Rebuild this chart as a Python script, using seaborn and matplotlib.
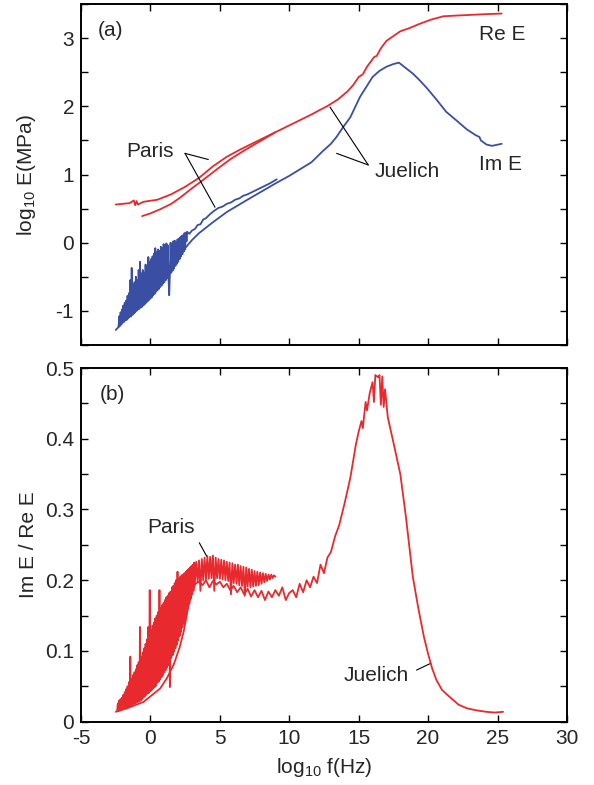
# -*- coding: utf-8 -*-
"""
Re E, Im E and Im E / Re E against log frequency, Paris and Juelich data
"""

import matplotlib.pyplot as plt
from matplotlib.ticker import MultipleLocator
import seaborn as sns

# set theme
sns.set_theme(style="ticks")
plt.rcParams['font.family'] = ['Liberation Sans', 'DejaVu Sans']
plt.rcParams['mathtext.fontset'] = 'custom'
plt.rcParams['mathtext.rm'] = 'Liberation Sans'
plt.rcParams['mathtext.it'] = 'Liberation Sans'
plt.rcParams['axes.unicode_minus'] = False

RED = '#e8292d'
BLUE = '#3a4fa3'

# --- panel (a): log10 E (MPa) ---
juelich_re_x = [-2.5, -2.0, -1.5, -1.2, -1.1, -1.0, -0.9, -0.5, 0.5, 1.5, 2.5, 3.5,
                4.5, 5.5, 6.5, 7.5, 8.5, 9.5, 10.5, 11.5, 12.8, 13.5, 14.2, 14.6,
                15.0, 15.3, 15.6, 16.1, 16.3, 16.6, 17.0, 17.5, 18.0, 18.7, 19.4,
                20.2, 21.1, 22.0, 23.0, 24.0, 25.3]
juelich_re_y = [0.56, 0.57, 0.58, 0.62, 0.55, 0.61, 0.56, 0.60, 0.63, 0.71, 0.82, 0.95,
                1.12, 1.26, 1.37, 1.47, 1.57, 1.67, 1.77, 1.87, 2.01, 2.10, 2.22, 2.31,
                2.43, 2.47, 2.58, 2.72, 2.74, 2.85, 2.96, 3.03, 3.10, 3.15, 3.21,
                3.27, 3.32, 3.33, 3.34, 3.35, 3.36]

paris_re_x = [-0.6, 0.0, 0.7, 1.5, 2.2, 3.0, 3.6, 4.3, 5.0, 5.8, 6.9, 8.0, 9.0]
paris_re_y = [0.39, 0.43, 0.49, 0.57, 0.67, 0.80, 0.89, 1.00, 1.11, 1.23, 1.37, 1.50, 1.62]

juelich_im_x = [-2.5, -2.0, -1.5, -1.0, -0.5, 0.0, 0.5, 1.0, 1.5, 2.0, 2.5, 3.0, 3.5,
                4.5, 5.5, 6.9, 8.0, 9.1, 10.0, 10.8, 11.6, 12.4, 13.0, 13.4, 13.9,
                14.4, 15.1, 15.6, 16.0, 16.5, 17.0, 17.5, 17.9, 18.4, 18.9, 19.4,
                19.9, 20.6, 21.3, 22.0, 22.8, 23.4, 23.7, 23.8, 24.2, 24.6, 25.3]
juelich_im_y = [-1.28, -1.17, -1.07, -0.98, -0.88, -0.78, -0.66, -0.53, -0.38, -0.22,
                -0.08, 0.04, 0.14, 0.30, 0.45, 0.62, 0.75, 0.88, 0.98, 1.08, 1.18,
                1.34, 1.45, 1.55, 1.70, 1.84, 2.14, 2.30, 2.43, 2.52, 2.58, 2.62,
                2.64, 2.56, 2.48, 2.38, 2.27, 2.10, 1.92, 1.80, 1.66, 1.58, 1.55,
                1.50, 1.44, 1.42, 1.45]

paris_im_x = [-2.30, -2.25, -2.20, -2.15, -2.10, -2.05, -2.00, -1.95, -1.90, -1.85,
              -1.80, -1.75, -1.70, -1.65, -1.60, -1.55, -1.50, -1.45, -1.40, -1.35,
              -1.30, -1.25, -1.20, -1.15, -1.10, -1.05, -1.00, -0.95, -0.90, -0.85,
              -0.80, -0.75, -0.70, -0.65, -0.60, -0.55, -0.50, -0.45, -0.40, -0.35,
              -0.30, -0.25, -0.20, -0.15, -0.10, -0.05, 0.00, 0.05, 0.10, 0.15,
              0.20, 0.25, 0.30, 0.35, 0.40, 0.45, 0.50, 0.55, 0.60, 0.65,
              0.70, 0.75, 0.80, 0.85, 0.90, 0.95, 1.00, 1.05, 1.10, 1.15,
              1.20, 1.25, 1.30, 1.35, 1.40, 1.45, 1.50, 1.55, 1.60, 1.65,
              1.70, 1.75, 1.80, 1.85, 1.90, 1.95, 2.00, 2.05, 2.10, 2.15,
              2.20, 2.25, 2.30, 2.35, 2.40, 2.45, 2.50, 2.55, 2.60, 2.65,
              2.8, 3.0, 3.2, 3.4, 3.6, 3.8, 4.0, 4.3, 4.6, 4.9, 5.2, 5.5, 5.8,
              6.1, 6.4, 6.7, 7.0, 7.4, 7.8, 8.2, 8.6, 9.1]
paris_im_y = [-1.24, -1.08, -1.22, -1.02, -1.20, -0.98, -1.17, -0.92, -1.16, -0.88,
              -1.14, -0.85, -1.13, -0.78, -1.11, -0.74, -1.09, -0.55, -1.08, -0.37,
              -1.06, -0.62, -1.04, -0.58, -1.02, -0.50, -1.00, -0.55, -0.98, -0.40,
              -0.97, -0.28, -0.95, -0.45, -0.94, -0.40, -0.92, -0.44, -0.90, -0.32,
              -0.88, -0.36, -0.86, -0.21, -0.84, -0.28, -0.82, -0.24, -0.80, -0.20,
              -0.77, -0.16, -0.75, -0.08, -0.72, -0.14, -0.70, -0.10, -0.68, -0.12,
              -0.65, -0.06, -0.63, -0.08, -0.60, -0.02, -0.58, -0.05, -0.55, -0.01,
              -0.52, -0.04, -0.50, -0.77, -0.47, 0.00, -0.44, -0.02, -0.41, 0.02,
              -0.38, 0.03, -0.34, 0.01, -0.31, 0.05, -0.28, 0.06, -0.24, 0.08,
              -0.20, 0.10, -0.17, 0.11, -0.13, 0.14, -0.10, 0.15, 0.02, 0.16,
              0.13, 0.18, 0.20, 0.26, 0.27, 0.34, 0.36, 0.42, 0.47, 0.51, 0.53, 0.57, 0.59,
              0.63, 0.65, 0.69, 0.71, 0.75, 0.79, 0.83, 0.87, 0.93]

# --- panel (b): Im E / Re E ---
juelich_tan_x = [-2.5, -1.7, -0.5, 0.7, 1.2, 1.7, 2.1, 2.4, 2.7,
                 3.0, 3.25, 3.5, 3.75, 4.0, 4.25, 4.5, 4.75, 5.0, 5.25, 5.5, 5.75,
                 6.0, 6.25, 6.5, 6.75, 7.0, 7.25, 7.5, 7.75, 8.0, 8.25, 8.5, 8.75,
                 9.0, 9.25, 9.5, 9.75, 10.0, 10.25, 10.5, 10.75, 11.0, 11.25, 11.5,
                 11.75, 12.0, 12.25, 12.5, 12.75, 13.0, 13.3, 13.6, 14.0, 14.4,
                 14.8, 15.0, 15.2, 15.3, 15.5, 15.6, 15.8, 16.0, 16.1, 16.2, 16.4,
                 16.5, 16.6, 16.7, 16.8, 16.9, 17.1, 17.5, 18.0, 18.4, 18.9, 19.3,
                 19.7, 20.0, 20.3, 20.6, 21.0, 21.5, 22.2, 22.8, 23.5, 24.2, 24.8,
                 25.4]
juelich_tan_y = [0.014, 0.019, 0.028, 0.047, 0.062, 0.082, 0.105, 0.128, 0.160,
                 0.185, 0.195, 0.198, 0.193, 0.200, 0.190, 0.199, 0.194, 0.198, 0.190,
                 0.195, 0.186, 0.192, 0.183, 0.190, 0.180, 0.188, 0.177, 0.186, 0.176,
                 0.185, 0.172, 0.184, 0.176, 0.186, 0.178, 0.190, 0.172, 0.182, 0.186,
                 0.176, 0.195, 0.183, 0.200, 0.190, 0.205, 0.196, 0.222, 0.210, 0.232,
                 0.240, 0.262, 0.278, 0.310, 0.345, 0.392, 0.410, 0.425, 0.415, 0.452,
                 0.440, 0.465, 0.480, 0.452, 0.490, 0.487, 0.490, 0.448, 0.488, 0.445,
                 0.470, 0.430, 0.395, 0.350, 0.290, 0.205, 0.160, 0.120, 0.096, 0.075,
                 0.059, 0.045, 0.036, 0.024, 0.019, 0.016, 0.014, 0.013, 0.014]

paris_tan_x = [-2.40, -2.35, -2.30, -2.25, -2.20, -2.15, -2.10, -2.05, -2.00, -1.95,
               -1.90, -1.85, -1.80, -1.75, -1.70, -1.65, -1.60, -1.55, -1.50, -1.45,
               -1.40, -1.35, -1.30, -1.25, -1.20, -1.15, -1.10, -1.05, -1.00, -0.95,
               -0.90, -0.85, -0.80, -0.75, -0.70, -0.65, -0.60, -0.55, -0.50, -0.45,
               -0.40, -0.35, -0.30, -0.25, -0.20, -0.15, -0.10, -0.05, 0.00, 0.05,
               0.10, 0.15, 0.20, 0.25, 0.30, 0.35, 0.40, 0.45, 0.50, 0.55,
               0.60, 0.65, 0.70, 0.75, 0.80, 0.85, 0.90, 0.95, 1.00, 1.05,
               1.10, 1.15, 1.20, 1.25, 1.30, 1.35, 1.40, 1.45, 1.50, 1.55,
               1.60, 1.65, 1.70, 1.75, 1.80, 1.85, 1.90, 1.95, 2.00, 2.05,
               2.10, 2.15, 2.20, 2.25, 2.30, 2.35, 2.40, 2.45, 2.50, 2.55,
               2.60, 2.65, 2.70, 2.75, 2.80, 2.85, 2.90, 2.95, 3.00, 3.05,
               3.10, 3.15,
               3.2, 3.3, 3.4, 3.5, 3.6, 3.7, 3.8, 3.9, 4.0, 4.1,
               4.2, 4.3, 4.4, 4.5, 4.6, 4.7, 4.8, 4.9, 5.0, 5.1,
               5.2, 5.3, 5.4, 5.5, 5.6, 5.7, 5.8, 5.9, 6.0, 6.1,
               6.2, 6.3, 6.4, 6.5, 6.6, 6.7, 6.8, 6.9, 7.0, 7.1,
               7.2, 7.3, 7.4, 7.5, 7.6, 7.7, 7.8, 7.9, 8.0, 8.1,
               8.2, 8.3, 8.4, 8.5, 8.6, 8.7, 8.8, 8.9, 9.0]
paris_tan_y = [0.015, 0.026, 0.015, 0.030, 0.016, 0.032, 0.017, 0.034, 0.018, 0.038,
               0.019, 0.042, 0.019, 0.046, 0.020, 0.050, 0.021, 0.056, 0.022, 0.092,
               0.023, 0.060, 0.024, 0.066, 0.025, 0.070, 0.026, 0.074, 0.027, 0.080,
               0.028, 0.084, 0.029, 0.134, 0.030, 0.092, 0.032, 0.098, 0.034, 0.104,
               0.036, 0.110, 0.038, 0.116, 0.040, 0.134, 0.041, 0.186, 0.043, 0.130,
               0.045, 0.136, 0.047, 0.140, 0.049, 0.146, 0.051, 0.150, 0.055, 0.155,
               0.057, 0.186, 0.060, 0.160, 0.063, 0.165, 0.066, 0.168, 0.070, 0.172,
               0.073, 0.176, 0.077, 0.178, 0.080, 0.182, 0.049, 0.184, 0.090, 0.190,
               0.094, 0.192, 0.099, 0.196, 0.104, 0.200, 0.109, 0.212, 0.115, 0.202,
               0.121, 0.205, 0.127, 0.207, 0.133, 0.208, 0.139, 0.210, 0.145, 0.212,
               0.152, 0.214, 0.160, 0.216, 0.167, 0.218, 0.174, 0.220, 0.180, 0.222,
               0.185, 0.225,
               0.195, 0.226, 0.198, 0.228, 0.185, 0.230, 0.200, 0.232, 0.201, 0.234,
               0.202, 0.233, 0.203, 0.235, 0.185, 0.232, 0.203, 0.230, 0.202, 0.229,
               0.201, 0.228, 0.200, 0.226, 0.199, 0.225, 0.180, 0.224, 0.196, 0.222,
               0.195, 0.222, 0.193, 0.220, 0.192, 0.219, 0.178, 0.218, 0.191, 0.216,
               0.190, 0.215, 0.191, 0.213, 0.192, 0.212, 0.193, 0.211, 0.195, 0.210,
               0.197, 0.209, 0.199, 0.208, 0.201, 0.208, 0.203, 0.207, 0.205]

# create figure
fig = plt.figure(figsize=(5.94, 7.85), dpi=100)
ax1 = fig.add_axes([0.1364, 0.5605, 0.818, 0.4344])
ax2 = fig.add_axes([0.1364, 0.0806, 0.818, 0.4506])

line_kw = dict(estimator=None, sort=False, linewidth=1.3)

# plot panel (a)
sns.lineplot(x=juelich_re_x, y=juelich_re_y, color=RED, ax=ax1, **line_kw)
sns.lineplot(x=paris_re_x, y=paris_re_y, color=RED, ax=ax1, **line_kw)
sns.lineplot(x=juelich_im_x, y=juelich_im_y, color=BLUE, ax=ax1, **line_kw)
sns.lineplot(x=paris_im_x, y=paris_im_y, color=BLUE, ax=ax1, **line_kw)

# plot panel (b)
sns.lineplot(x=juelich_tan_x, y=juelich_tan_y, color=RED, ax=ax2, **line_kw)
sns.lineplot(x=paris_tan_x, y=paris_tan_y, color=RED, ax=ax2, **line_kw)

fs = 15
for ax in (ax1, ax2):
    ax.set_xlim(-5, 30)
    ax.xaxis.set_major_locator(MultipleLocator(5))
    ax.tick_params(which='both', direction='in', top=True, right=True,
                   labelsize=fs, width=1.0, length=5, color='black', pad=5)
    for s in ax.spines.values():
        s.set_linewidth(1.4)
        s.set_color('black')

ax1.set_ylim(-1.5, 3.5)
ax1.yaxis.set_major_locator(MultipleLocator(1))
ax1.yaxis.set_minor_locator(MultipleLocator(0.5))
ax1.tick_params(axis='x', labelbottom=False)
ax1.set_xlabel('')
ax1.set_ylabel('log$_{10}$ E(MPa)', fontsize=fs)
ax1.yaxis.set_label_coords(-0.088, 0.5)

ax2.set_ylim(0, 0.5)
ax2.yaxis.set_major_locator(MultipleLocator(0.1))
ax2.yaxis.set_minor_locator(MultipleLocator(0.05))
ax2.yaxis.set_major_formatter(lambda v, p: '0' if abs(v) < 1e-9 else f'{v:.1f}')
ax2.set_xlabel('log$_{10}$ f(Hz)', fontsize=fs, labelpad=6)
ax2.set_ylabel('Im E / Re E', fontsize=fs)
ax2.yaxis.set_label_coords(-0.088, 0.5)

# labels panel (a)
ax1.text(-3.78, 3.11, '(a)', fontsize=fs, va='center')
ax1.text(23.67, 3.05, 'Re E', fontsize=fs, va='center')
ax1.text(23.67, 1.14, 'Im E', fontsize=fs, va='center')
ax1.text(-1.71, 1.33, 'Paris', fontsize=fs, va='center')
ax1.text(16.17, 1.04, 'Juelich', fontsize=fs, va='center')
ax1.plot([2.49, 4.17], [1.31, 1.22], color='black', lw=0.8)
ax1.plot([2.49, 4.65], [1.31, 0.52], color='black', lw=0.8)
ax1.plot([15.69, 12.93], [1.14, 1.99], color='black', lw=0.8)
ax1.plot([15.69, 13.41], [1.14, 1.31], color='black', lw=0.8)

# labels panel (b)
ax2.text(-3.63, 0.463, '(b)', fontsize=fs, va='center')
ax2.text(-0.22, 0.274, 'Paris', fontsize=fs, va='center')
ax2.text(13.94, 0.065, 'Juelich', fontsize=fs, va='center')
ax2.plot([3.52, 4.05], [0.253, 0.234], color='black', lw=0.8)
ax2.plot([19.17, 20.13], [0.073, 0.082], color='black', lw=0.8)

plt.savefig('out.png', dpi=100)
